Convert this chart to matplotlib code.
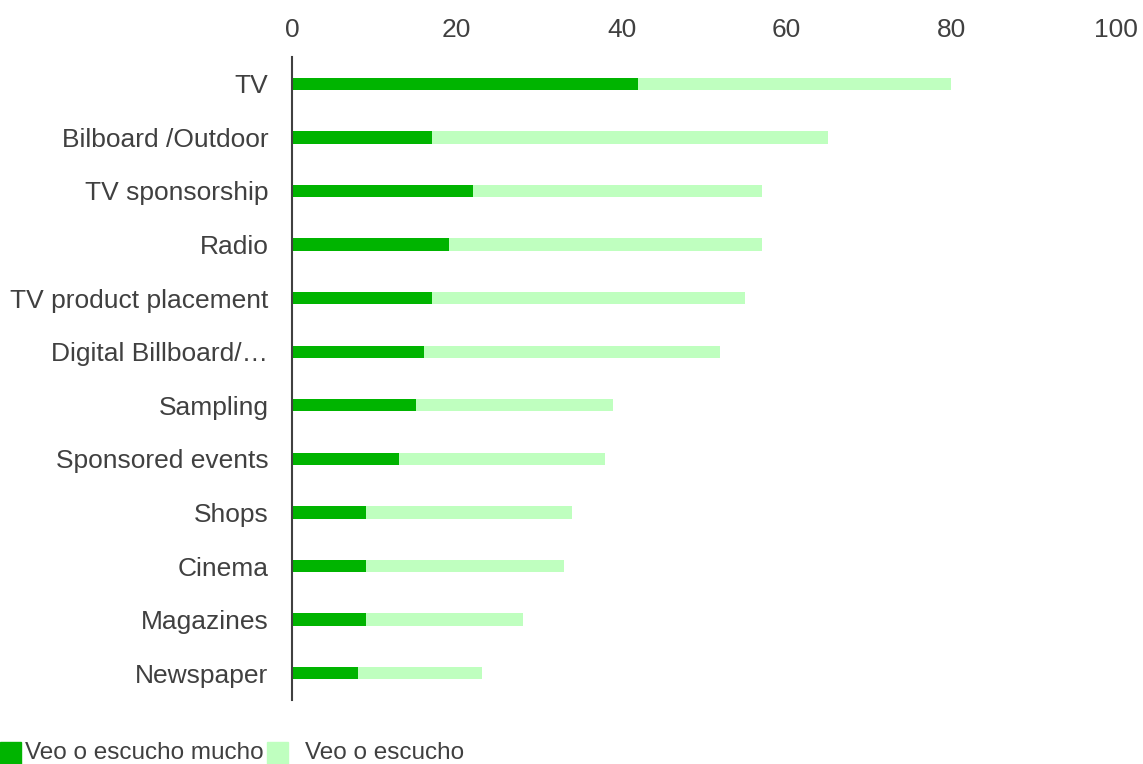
import matplotlib.pyplot as plt
from matplotlib.patches import Rectangle

plt.rcParams['font.family'] = ['Liberation Sans', 'DejaVu Sans']

categories = ['TV', 'Bilboard /Outdoor', 'TV sponsorship', 'Radio',
              'TV product placement', 'Digital Billboard/\u2026', 'Sampling',
              'Sponsored events', 'Shops', 'Cinema', 'Magazines', 'Newspaper']
mucho = [42, 17, 22, 19, 17, 16, 15, 13, 9, 9, 9, 8]
escucho = [38, 48, 35, 38, 38, 36, 24, 25, 25, 24, 19, 15]
legend_labels = ['Veo o escucho mucho', 'Veo o escucho']

dark = '#00B400'
light = '#BFFFBF'
text_color = '#404040'

W, H = 1143, 764
fig = plt.figure(figsize=(W / 100, H / 100), dpi=100)
ax = fig.add_axes([292 / W, (H - 700) / H, (1116 - 292) / W, (700 - 57) / H])

y = list(range(len(categories)))
ax.barh(y, mucho, height=0.23, color=dark)
ax.barh(y, escucho, left=mucho, height=0.23, color=light)

ax.set_xlim(0, 100)
ax.set_ylim(len(categories) - 0.5, -0.5)
ax.set_yticks(y)
ax.set_yticklabels(categories, fontsize=19, color=text_color)
ax.set_xticks(range(0, 101, 20))
ax.xaxis.tick_top()
ax.tick_params(axis='x', length=0, labelsize=19, labelcolor=text_color, pad=11)
ax.tick_params(axis='y', length=0, pad=17)
for s in ['top', 'right', 'bottom']:
    ax.spines[s].set_visible(False)
ax.spines['left'].set_color('#404040')
ax.spines['left'].set_linewidth(1.5)

# legend drawn by hand to keep the reference spacing
for (sx, tx), col, lab in zip([(0, 25), (267, 305)], [dark, light], legend_labels):
    fig.patches.append(Rectangle((sx / W, 0), 21 / W, 22 / H, color=col,
                                 transform=fig.transFigure, figure=fig))
    fig.text(tx / W, (H - 753) / H, lab, fontsize=17.5, color=text_color,
             va='center', ha='left')

fig.savefig('out.png', dpi=100)
